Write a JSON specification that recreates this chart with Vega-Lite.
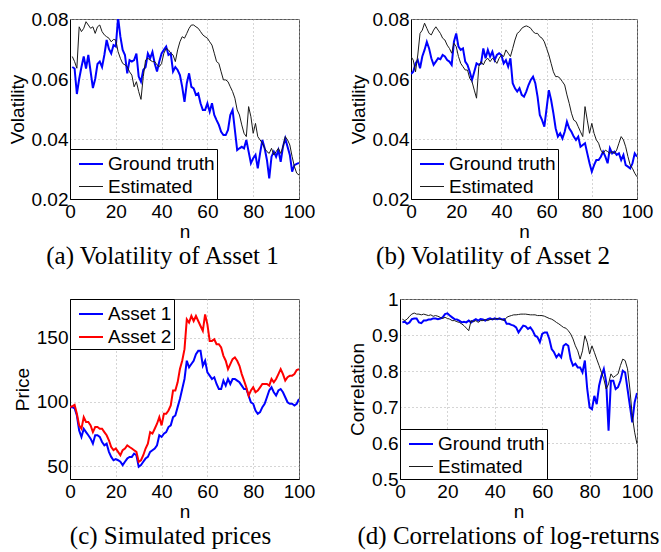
{
"$schema": "https://vega.github.io/schema/vega-lite/v6.json",
"background": "white",
"padding": {"left": 7, "top": 9, "right": 2, "bottom": 3},
"datasets": {
"a": [
{"n":1,"Ground truth":0.064,"Estimated":0.0675},{"n":2,"Ground truth":0.0635,"Estimated":0.0658},{"n":3,"Ground truth":0.055,"Estimated":0.0636},{"n":4,"Ground truth":0.06,"Estimated":0.0774},{"n":5,"Ground truth":0.064,"Estimated":0.0758},{"n":6,"Ground truth":0.0675,"Estimated":0.0769},{"n":7,"Ground truth":0.0635,"Estimated":0.0791},{"n":8,"Ground truth":0.068,"Estimated":0.078},{"n":9,"Ground truth":0.0625,"Estimated":0.0769},{"n":10,"Ground truth":0.057,"Estimated":0.0774},
{"n":11,"Ground truth":0.06,"Estimated":0.0752},{"n":12,"Ground truth":0.065,"Estimated":0.0774},{"n":13,"Ground truth":0.0658,"Estimated":0.078},{"n":14,"Ground truth":0.064,"Estimated":0.0758},{"n":15,"Ground truth":0.068,"Estimated":0.0747},{"n":16,"Ground truth":0.073,"Estimated":0.0741},{"n":17,"Ground truth":0.07,"Estimated":0.0736},{"n":18,"Ground truth":0.0685,"Estimated":0.0724},{"n":19,"Ground truth":0.0713,"Estimated":0.0732},{"n":20,"Ground truth":0.0708,"Estimated":0.073},
{"n":21,"Ground truth":0.0805,"Estimated":0.0691},{"n":22,"Ground truth":0.0741,"Estimated":0.0669},{"n":23,"Ground truth":0.0697,"Estimated":0.0652},{"n":24,"Ground truth":0.068,"Estimated":0.0647},{"n":25,"Ground truth":0.0619,"Estimated":0.0641},{"n":26,"Ground truth":0.0663,"Estimated":0.0624},{"n":27,"Ground truth":0.0658,"Estimated":0.0613},{"n":28,"Ground truth":0.0663,"Estimated":0.0574},{"n":29,"Ground truth":0.0685,"Estimated":0.0591},{"n":30,"Ground truth":0.0608,"Estimated":0.0558},
{"n":31,"Ground truth":0.0591,"Estimated":0.0532},{"n":32,"Ground truth":0.063,"Estimated":0.0608},{"n":33,"Ground truth":0.064,"Estimated":0.0663},{"n":34,"Ground truth":0.0685,"Estimated":0.0669},{"n":35,"Ground truth":0.0669,"Estimated":0.0663},{"n":36,"Ground truth":0.069,"Estimated":0.0658},{"n":37,"Ground truth":0.0652,"Estimated":0.0658},{"n":38,"Ground truth":0.0625,"Estimated":0.0647},{"n":39,"Ground truth":0.0658,"Estimated":0.0641},{"n":40,"Ground truth":0.0685,"Estimated":0.0652},
{"n":41,"Ground truth":0.0697,"Estimated":0.0686},{"n":42,"Ground truth":0.0708,"Estimated":0.0702},{"n":43,"Ground truth":0.068,"Estimated":0.0697},{"n":44,"Ground truth":0.0685,"Estimated":0.0686},{"n":45,"Ground truth":0.0625,"Estimated":0.068},{"n":46,"Ground truth":0.064,"Estimated":0.0658},{"n":47,"Ground truth":0.063,"Estimated":0.0697},{"n":48,"Ground truth":0.0613,"Estimated":0.0724},{"n":49,"Ground truth":0.0574,"Estimated":0.0741},{"n":50,"Ground truth":0.0524,"Estimated":0.0736},
{"n":51,"Ground truth":0.0586,"Estimated":0.0752},{"n":52,"Ground truth":0.0619,"Estimated":0.0769},{"n":53,"Ground truth":0.0574,"Estimated":0.078},{"n":54,"Ground truth":0.0569,"Estimated":0.078},{"n":55,"Ground truth":0.0547,"Estimated":0.0774},{"n":56,"Ground truth":0.0552,"Estimated":0.0769},{"n":57,"Ground truth":0.0519,"Estimated":0.0758},{"n":58,"Ground truth":0.0497,"Estimated":0.0747},{"n":59,"Ground truth":0.0497,"Estimated":0.0741},{"n":60,"Ground truth":0.0519,"Estimated":0.0736},
{"n":61,"Ground truth":0.0491,"Estimated":0.0724},{"n":62,"Ground truth":0.0519,"Estimated":0.0713},{"n":63,"Ground truth":0.048,"Estimated":0.0686},{"n":64,"Ground truth":0.0463,"Estimated":0.0658},{"n":65,"Ground truth":0.0447,"Estimated":0.0652},{"n":66,"Ground truth":0.0424,"Estimated":0.0624},{"n":67,"Ground truth":0.0413,"Estimated":0.0597},{"n":68,"Ground truth":0.0413,"Estimated":0.0597},{"n":69,"Ground truth":0.043,"Estimated":0.0591},{"n":70,"Ground truth":0.048,"Estimated":0.0574},
{"n":71,"Ground truth":0.0497,"Estimated":0.0558},{"n":72,"Ground truth":0.043,"Estimated":0.0536},{"n":73,"Ground truth":0.0363,"Estimated":0.0497},{"n":74,"Ground truth":0.0369,"Estimated":0.048},{"n":75,"Ground truth":0.0374,"Estimated":0.0447},{"n":76,"Ground truth":0.0369,"Estimated":0.0419},{"n":77,"Ground truth":0.0397,"Estimated":0.0408},{"n":78,"Ground truth":0.0358,"Estimated":0.0508},{"n":79,"Ground truth":0.0319,"Estimated":0.0474},{"n":80,"Ground truth":0.0336,"Estimated":0.0419},
{"n":81,"Ground truth":0.0347,"Estimated":0.0452},{"n":82,"Ground truth":0.0302,"Estimated":0.0408},{"n":83,"Ground truth":0.0352,"Estimated":0.0397},{"n":84,"Ground truth":0.0397,"Estimated":0.0386},{"n":85,"Ground truth":0.0369,"Estimated":0.0369},{"n":86,"Ground truth":0.033,"Estimated":0.0358},{"n":87,"Ground truth":0.0269,"Estimated":0.0352},{"n":88,"Ground truth":0.0341,"Estimated":0.0369},{"n":89,"Ground truth":0.0358,"Estimated":0.0347},{"n":90,"Ground truth":0.0341,"Estimated":0.0358},
{"n":91,"Ground truth":0.0363,"Estimated":0.0369},{"n":92,"Ground truth":0.0324,"Estimated":0.0352},{"n":93,"Ground truth":0.0374,"Estimated":0.0374},{"n":94,"Ground truth":0.0402,"Estimated":0.0408},{"n":95,"Ground truth":0.0374,"Estimated":0.0397},{"n":96,"Ground truth":0.0347,"Estimated":0.038},{"n":97,"Ground truth":0.0291,"Estimated":0.0341},{"n":98,"Ground truth":0.0313,"Estimated":0.0308},{"n":99,"Ground truth":0.0317,"Estimated":0.0286},{"n":100,"Ground truth":0.032,"Estimated":0.028}
],
"b": [
{"n":0,"Ground truth":0.0617,"Estimated":0.0675},{"n":1,"Ground truth":0.0624,"Estimated":0.0663},{"n":2,"Ground truth":0.0652,"Estimated":0.0624},{"n":3,"Ground truth":0.0663,"Estimated":0.068},{"n":4,"Ground truth":0.0636,"Estimated":0.0752},{"n":5,"Ground truth":0.0675,"Estimated":0.0763},{"n":6,"Ground truth":0.0697,"Estimated":0.0786},{"n":7,"Ground truth":0.0724,"Estimated":0.0769},{"n":8,"Ground truth":0.0702,"Estimated":0.0752},{"n":9,"Ground truth":0.0669,"Estimated":0.0747},{"n":10,"Ground truth":0.0647,"Estimated":0.0763},
{"n":11,"Ground truth":0.0658,"Estimated":0.0774},{"n":12,"Ground truth":0.0669,"Estimated":0.0763},{"n":13,"Ground truth":0.0666,"Estimated":0.0752},{"n":14,"Ground truth":0.068,"Estimated":0.0736},{"n":15,"Ground truth":0.0675,"Estimated":0.073},{"n":16,"Ground truth":0.0663,"Estimated":0.0713},{"n":17,"Ground truth":0.0658,"Estimated":0.0702},{"n":18,"Ground truth":0.0647,"Estimated":0.0686},{"n":19,"Ground truth":0.0724,"Estimated":0.0719},{"n":20,"Ground truth":0.0752,"Estimated":0.0708},
{"n":21,"Ground truth":0.0708,"Estimated":0.0675},{"n":22,"Ground truth":0.0697,"Estimated":0.0652},{"n":23,"Ground truth":0.0702,"Estimated":0.0641},{"n":24,"Ground truth":0.0658,"Estimated":0.063},{"n":25,"Ground truth":0.0647,"Estimated":0.063},{"n":26,"Ground truth":0.0624,"Estimated":0.0602},{"n":27,"Ground truth":0.0597,"Estimated":0.0591},{"n":28,"Ground truth":0.0624,"Estimated":0.0563},{"n":29,"Ground truth":0.0652,"Estimated":0.0536},{"n":30,"Ground truth":0.0647,"Estimated":0.0641},
{"n":31,"Ground truth":0.0652,"Estimated":0.0658},{"n":32,"Ground truth":0.0702,"Estimated":0.0647},{"n":33,"Ground truth":0.0669,"Estimated":0.0663},{"n":34,"Ground truth":0.0697,"Estimated":0.0669},{"n":35,"Ground truth":0.0675,"Estimated":0.0658},{"n":36,"Ground truth":0.0691,"Estimated":0.0669},{"n":37,"Ground truth":0.0663,"Estimated":0.0663},{"n":38,"Ground truth":0.068,"Estimated":0.0652},{"n":39,"Ground truth":0.0686,"Estimated":0.0669},{"n":40,"Ground truth":0.068,"Estimated":0.068},
{"n":41,"Ground truth":0.0652,"Estimated":0.0675},{"n":42,"Ground truth":0.0663,"Estimated":0.0697},{"n":43,"Ground truth":0.0641,"Estimated":0.0686},{"n":44,"Ground truth":0.0669,"Estimated":0.0675},{"n":45,"Ground truth":0.0586,"Estimated":0.0702},{"n":46,"Ground truth":0.0569,"Estimated":0.073},{"n":47,"Ground truth":0.0558,"Estimated":0.0752},{"n":48,"Ground truth":0.0569,"Estimated":0.0758},{"n":49,"Ground truth":0.0547,"Estimated":0.0769},{"n":50,"Ground truth":0.0541,"Estimated":0.0774},
{"n":51,"Ground truth":0.0558,"Estimated":0.0777},{"n":52,"Ground truth":0.058,"Estimated":0.0774},{"n":53,"Ground truth":0.0597,"Estimated":0.0769},{"n":54,"Ground truth":0.0608,"Estimated":0.0758},{"n":55,"Ground truth":0.0586,"Estimated":0.0752},{"n":56,"Ground truth":0.0541,"Estimated":0.0752},{"n":57,"Ground truth":0.048,"Estimated":0.0741},{"n":58,"Ground truth":0.0463,"Estimated":0.0736},{"n":59,"Ground truth":0.0441,"Estimated":0.0724},{"n":60,"Ground truth":0.0502,"Estimated":0.0702},
{"n":61,"Ground truth":0.0563,"Estimated":0.068},{"n":62,"Ground truth":0.053,"Estimated":0.0652},{"n":63,"Ground truth":0.0486,"Estimated":0.0624},{"n":64,"Ground truth":0.0436,"Estimated":0.0608},{"n":65,"Ground truth":0.0408,"Estimated":0.0608},{"n":66,"Ground truth":0.0419,"Estimated":0.0602},{"n":67,"Ground truth":0.0402,"Estimated":0.0591},{"n":68,"Ground truth":0.0424,"Estimated":0.058},{"n":69,"Ground truth":0.0458,"Estimated":0.0547},{"n":70,"Ground truth":0.0436,"Estimated":0.0519},
{"n":71,"Ground truth":0.0424,"Estimated":0.0486},{"n":72,"Ground truth":0.0408,"Estimated":0.0463},{"n":73,"Ground truth":0.0397,"Estimated":0.0458},{"n":74,"Ground truth":0.0408,"Estimated":0.0441},{"n":75,"Ground truth":0.0374,"Estimated":0.0424},{"n":76,"Ground truth":0.038,"Estimated":0.0408},{"n":77,"Ground truth":0.0386,"Estimated":0.0508},{"n":78,"Ground truth":0.0352,"Estimated":0.0463},{"n":79,"Ground truth":0.0319,"Estimated":0.0419},{"n":80,"Ground truth":0.0291,"Estimated":0.0452},
{"n":81,"Ground truth":0.0313,"Estimated":0.0419},{"n":82,"Ground truth":0.033,"Estimated":0.0397},{"n":83,"Ground truth":0.033,"Estimated":0.0386},{"n":84,"Ground truth":0.0341,"Estimated":0.0363},{"n":85,"Ground truth":0.0358,"Estimated":0.0352},{"n":86,"Ground truth":0.0341,"Estimated":0.0363},{"n":87,"Ground truth":0.0319,"Estimated":0.0358},{"n":88,"Ground truth":0.0369,"Estimated":0.0352},{"n":89,"Ground truth":0.0352,"Estimated":0.0358},{"n":90,"Ground truth":0.0358,"Estimated":0.0352},
{"n":91,"Ground truth":0.0347,"Estimated":0.0363},{"n":92,"Ground truth":0.0352,"Estimated":0.0386},{"n":93,"Ground truth":0.033,"Estimated":0.0408},{"n":94,"Ground truth":0.0347,"Estimated":0.0397},{"n":95,"Ground truth":0.0313,"Estimated":0.0374},{"n":96,"Ground truth":0.0308,"Estimated":0.0341},{"n":97,"Ground truth":0.0302,"Estimated":0.0313},{"n":98,"Ground truth":0.0319,"Estimated":0.0302},{"n":99,"Ground truth":0.0352,"Estimated":0.0286},{"n":100,"Ground truth":0.0341,"Estimated":0.0274}
],
"c": [
{"n":0,"Asset 1":95.9,"Asset 2":95.9},{"n":1,"Asset 1":95.9,"Asset 2":96.6},{"n":2,"Asset 1":95,"Asset 2":97.7},{"n":3,"Asset 1":89.4,"Asset 2":90.7},{"n":4,"Asset 1":77.8,"Asset 2":81.7},{"n":5,"Asset 1":72.7,"Asset 2":79.1},{"n":6,"Asset 1":79.1,"Asset 2":88.1},{"n":7,"Asset 1":76.5,"Asset 2":84.3},{"n":8,"Asset 1":74,"Asset 2":84.3},{"n":9,"Asset 1":71.4,"Asset 2":81.7},{"n":10,"Asset 1":67.5,"Asset 2":76.5},
{"n":11,"Asset 1":74,"Asset 2":80.4},{"n":12,"Asset 1":74,"Asset 2":80.4},{"n":13,"Asset 1":72.7,"Asset 2":79.1},{"n":14,"Asset 1":68.8,"Asset 2":79.1},{"n":15,"Asset 1":66.2,"Asset 2":76.5},{"n":16,"Asset 1":67.5,"Asset 2":74},{"n":17,"Asset 1":61.1,"Asset 2":70.1},{"n":18,"Asset 1":57.2,"Asset 2":64.9},{"n":19,"Asset 1":54.6,"Asset 2":62.4},{"n":20,"Asset 1":55.4,"Asset 2":63.7},
{"n":21,"Asset 1":54.6,"Asset 2":61.1},{"n":22,"Asset 1":53.4,"Asset 2":58.5},{"n":23,"Asset 1":50.8,"Asset 2":62.4},{"n":24,"Asset 1":53.4,"Asset 2":63.7},{"n":25,"Asset 1":55.9,"Asset 2":66.2},{"n":26,"Asset 1":57.2,"Asset 2":64.9},{"n":27,"Asset 1":57.2,"Asset 2":63.7},{"n":28,"Asset 1":59.8,"Asset 2":62.4},{"n":29,"Asset 1":58.5,"Asset 2":61.1},{"n":30,"Asset 1":49.5,"Asset 2":53.4},
{"n":31,"Asset 1":50.8,"Asset 2":54.6},{"n":32,"Asset 1":53.4,"Asset 2":58.5},{"n":33,"Asset 1":55.9,"Asset 2":63.7},{"n":34,"Asset 1":57.2,"Asset 2":67.5},{"n":35,"Asset 1":61.1,"Asset 2":76.5},{"n":36,"Asset 1":62.4,"Asset 2":75.3},{"n":37,"Asset 1":63.7,"Asset 2":79.1},{"n":38,"Asset 1":66.2,"Asset 2":83},{"n":39,"Asset 1":74,"Asset 2":88.1},{"n":40,"Asset 1":72.7,"Asset 2":81.7},
{"n":41,"Asset 1":75.3,"Asset 2":90.7},{"n":42,"Asset 1":76.5,"Asset 2":90.7},{"n":43,"Asset 1":80.4,"Asset 2":93.3},{"n":44,"Asset 1":81.7,"Asset 2":97.2},{"n":45,"Asset 1":88.1,"Asset 2":108.8},{"n":46,"Asset 1":89.4,"Asset 2":108.8},{"n":47,"Asset 1":95.9,"Asset 2":115.2},{"n":48,"Asset 1":102.3,"Asset 2":125.5},{"n":49,"Asset 1":110,"Asset 2":132},{"n":50,"Asset 1":117.8,"Asset 2":141},
{"n":51,"Asset 1":132,"Asset 2":164.2},{"n":52,"Asset 1":126.8,"Asset 2":161.6},{"n":53,"Asset 1":129.4,"Asset 2":166.8},{"n":54,"Asset 1":132,"Asset 2":162.9},{"n":55,"Asset 1":137.1,"Asset 2":166.8},{"n":56,"Asset 1":139.7,"Asset 2":162.9},{"n":57,"Asset 1":139.7,"Asset 2":159},{"n":58,"Asset 1":128.1,"Asset 2":155.2},{"n":59,"Asset 1":132,"Asset 2":168},{"n":60,"Asset 1":122.9,"Asset 2":160.3},
{"n":61,"Asset 1":120.4,"Asset 2":147.4},{"n":62,"Asset 1":117.8,"Asset 2":147.4},{"n":63,"Asset 1":119.1,"Asset 2":148.7},{"n":64,"Asset 1":113.9,"Asset 2":144.8},{"n":65,"Asset 1":110,"Asset 2":144.8},{"n":66,"Asset 1":110,"Asset 2":142.3},{"n":67,"Asset 1":116.5,"Asset 2":135.8},{"n":68,"Asset 1":112.6,"Asset 2":132},{"n":69,"Asset 1":117.8,"Asset 2":125.5},{"n":70,"Asset 1":113.9,"Asset 2":129.4},
{"n":71,"Asset 1":117.8,"Asset 2":133.2},{"n":72,"Asset 1":117.8,"Asset 2":134.5},{"n":73,"Asset 1":116.5,"Asset 2":132},{"n":74,"Asset 1":115.2,"Asset 2":128.1},{"n":75,"Asset 1":112.6,"Asset 2":121.6},{"n":76,"Asset 1":110,"Asset 2":116.5},{"n":77,"Asset 1":110,"Asset 2":111.3},{"n":78,"Asset 1":104.9,"Asset 2":104.9},{"n":79,"Asset 1":99.7,"Asset 2":108.8},{"n":80,"Asset 1":98.5,"Asset 2":111.3},
{"n":81,"Asset 1":93.3,"Asset 2":107.5},{"n":82,"Asset 1":90.7,"Asset 2":108.8},{"n":83,"Asset 1":92,"Asset 2":111.3},{"n":84,"Asset 1":95.9,"Asset 2":113.9},{"n":85,"Asset 1":98.5,"Asset 2":113.9},{"n":86,"Asset 1":103.6,"Asset 2":113.9},{"n":87,"Asset 1":108.8,"Asset 2":112.6},{"n":88,"Asset 1":111.3,"Asset 2":117.8},{"n":89,"Asset 1":107.5,"Asset 2":115.2},{"n":90,"Asset 1":104.9,"Asset 2":117.8},
{"n":91,"Asset 1":108.8,"Asset 2":121.6},{"n":92,"Asset 1":110,"Asset 2":125.5},{"n":93,"Asset 1":107.5,"Asset 2":121.6},{"n":94,"Asset 1":103.6,"Asset 2":116.5},{"n":95,"Asset 1":99.7,"Asset 2":119.1},{"n":96,"Asset 1":98.5,"Asset 2":120.4},{"n":97,"Asset 1":98.5,"Asset 2":120.4},{"n":98,"Asset 1":97.2,"Asset 2":121.6},{"n":99,"Asset 1":98.5,"Asset 2":124.7},{"n":100,"Asset 1":102.3,"Asset 2":125.5}
],
"d": [
{"n":1,"Ground truth":0.935,"Estimated":0.944},{"n":2,"Ground truth":0.937,"Estimated":0.94},{"n":3,"Ground truth":0.931,"Estimated":0.944},{"n":4,"Ground truth":0.935,"Estimated":0.952},{"n":5,"Ground truth":0.944,"Estimated":0.958},{"n":6,"Ground truth":0.946,"Estimated":0.961},{"n":7,"Ground truth":0.946,"Estimated":0.958},{"n":8,"Ground truth":0.935,"Estimated":0.958},{"n":9,"Ground truth":0.933,"Estimated":0.956},{"n":10,"Ground truth":0.94,"Estimated":0.958},
{"n":11,"Ground truth":0.94,"Estimated":0.956},{"n":12,"Ground truth":0.943,"Estimated":0.954},{"n":13,"Ground truth":0.943,"Estimated":0.956},{"n":14,"Ground truth":0.946,"Estimated":0.952},{"n":15,"Ground truth":0.946,"Estimated":0.954},{"n":16,"Ground truth":0.944,"Estimated":0.952},{"n":17,"Ground truth":0.946,"Estimated":0.949},{"n":18,"Ground truth":0.949,"Estimated":0.946},{"n":19,"Ground truth":0.958,"Estimated":0.949},{"n":20,"Ground truth":0.96,"Estimated":0.946},
{"n":21,"Ground truth":0.954,"Estimated":0.944},{"n":22,"Ground truth":0.949,"Estimated":0.94},{"n":23,"Ground truth":0.944,"Estimated":0.94},{"n":24,"Ground truth":0.943,"Estimated":0.937},{"n":25,"Ground truth":0.94,"Estimated":0.935},{"n":26,"Ground truth":0.935,"Estimated":0.931},{"n":27,"Ground truth":0.937,"Estimated":0.926},{"n":28,"Ground truth":0.935,"Estimated":0.919},{"n":29,"Ground truth":0.94,"Estimated":0.912},{"n":30,"Ground truth":0.935,"Estimated":0.94},
{"n":31,"Ground truth":0.94,"Estimated":0.937},{"n":32,"Ground truth":0.944,"Estimated":0.94},{"n":33,"Ground truth":0.94,"Estimated":0.935},{"n":34,"Ground truth":0.944,"Estimated":0.94},{"n":35,"Ground truth":0.943,"Estimated":0.94},{"n":36,"Ground truth":0.94,"Estimated":0.943},{"n":37,"Ground truth":0.944,"Estimated":0.94},{"n":38,"Ground truth":0.946,"Estimated":0.943},{"n":39,"Ground truth":0.943,"Estimated":0.944},{"n":40,"Ground truth":0.946,"Estimated":0.944},
{"n":41,"Ground truth":0.944,"Estimated":0.946},{"n":42,"Ground truth":0.946,"Estimated":0.944},{"n":43,"Ground truth":0.943,"Estimated":0.943},{"n":44,"Ground truth":0.944,"Estimated":0.94},{"n":45,"Ground truth":0.931,"Estimated":0.949},{"n":46,"Ground truth":0.931,"Estimated":0.952},{"n":47,"Ground truth":0.928,"Estimated":0.954},{"n":48,"Ground truth":0.926,"Estimated":0.956},{"n":49,"Ground truth":0.921,"Estimated":0.956},{"n":50,"Ground truth":0.907,"Estimated":0.957},
{"n":51,"Ground truth":0.917,"Estimated":0.958},{"n":52,"Ground truth":0.926,"Estimated":0.958},{"n":53,"Ground truth":0.924,"Estimated":0.958},{"n":54,"Ground truth":0.917,"Estimated":0.957},{"n":55,"Ground truth":0.921,"Estimated":0.956},{"n":56,"Ground truth":0.912,"Estimated":0.956},{"n":57,"Ground truth":0.898,"Estimated":0.956},{"n":58,"Ground truth":0.894,"Estimated":0.954},{"n":59,"Ground truth":0.88,"Estimated":0.954},{"n":60,"Ground truth":0.903,"Estimated":0.954},
{"n":61,"Ground truth":0.907,"Estimated":0.952},{"n":62,"Ground truth":0.907,"Estimated":0.949},{"n":63,"Ground truth":0.889,"Estimated":0.946},{"n":64,"Ground truth":0.861,"Estimated":0.944},{"n":65,"Ground truth":0.852,"Estimated":0.94},{"n":66,"Ground truth":0.838,"Estimated":0.935},{"n":67,"Ground truth":0.847,"Estimated":0.931},{"n":68,"Ground truth":0.838,"Estimated":0.926},{"n":69,"Ground truth":0.87,"Estimated":0.921},{"n":70,"Ground truth":0.875,"Estimated":0.919},
{"n":71,"Ground truth":0.87,"Estimated":0.912},{"n":72,"Ground truth":0.833,"Estimated":0.903},{"n":73,"Ground truth":0.815,"Estimated":0.889},{"n":74,"Ground truth":0.82,"Estimated":0.87},{"n":75,"Ground truth":0.81,"Estimated":0.856},{"n":76,"Ground truth":0.81,"Estimated":0.833},{"n":77,"Ground truth":0.796,"Estimated":0.856},{"n":78,"Ground truth":0.829,"Estimated":0.898},{"n":79,"Ground truth":0.75,"Estimated":0.88},{"n":80,"Ground truth":0.699,"Estimated":0.847},
{"n":81,"Ground truth":0.694,"Estimated":0.87},{"n":82,"Ground truth":0.731,"Estimated":0.852},{"n":83,"Ground truth":0.708,"Estimated":0.833},{"n":84,"Ground truth":0.759,"Estimated":0.815},{"n":85,"Ground truth":0.787,"Estimated":0.796},{"n":86,"Ground truth":0.806,"Estimated":0.778},{"n":87,"Ground truth":0.769,"Estimated":0.75},{"n":88,"Ground truth":0.634,"Estimated":0.764},{"n":89,"Ground truth":0.773,"Estimated":0.792},{"n":90,"Ground truth":0.773,"Estimated":0.782},
{"n":91,"Ground truth":0.75,"Estimated":0.787},{"n":92,"Ground truth":0.755,"Estimated":0.792},{"n":93,"Ground truth":0.773,"Estimated":0.815},{"n":94,"Ground truth":0.801,"Estimated":0.833},{"n":95,"Ground truth":0.796,"Estimated":0.829},{"n":96,"Ground truth":0.75,"Estimated":0.806},{"n":97,"Ground truth":0.704,"Estimated":0.75},{"n":98,"Ground truth":0.657,"Estimated":0.676},{"n":99,"Ground truth":0.713,"Estimated":0.63},{"n":100,"Ground truth":0.739,"Estimated":0.597}
]
},
"vconcat": [
{
"hconcat": [
{
"width": 229, "height": 180,
"title": {"text": "(a) Volatility of Asset 1", "dx": -22},
"data": {"name": "a"},
"transform": [{"fold": ["Ground truth", "Estimated"], "as": ["series", "value"]}],
"mark": {"type": "line", "clip": true},
"encoding": {
"x": {"field": "n", "type": "quantitative", "scale": {"domain": [0, 100], "nice": false}, "axis": {"title": "n", "values": [0, 20, 40, 60, 80, 100]}},
"y": {"field": "value", "type": "quantitative", "scale": {"domain": [0.02, 0.08], "nice": false, "zero": false}, "axis": {"title": "Volatility", "values": [0.02, 0.04, 0.06, 0.08], "format": ".2f"}},
"color": {"field": "series", "type": "nominal", "scale": {"domain": ["Ground truth", "Estimated"], "range": ["#0000ff", "#1a1a1a"]}, "legend": {"title": null, "orient": "bottom-left"}},
"strokeWidth": {"field": "series", "type": "nominal", "scale": {"domain": ["Ground truth", "Estimated"], "range": [2, 1]}, "legend": {"title": null, "orient": "bottom-left"}}
}
},
{
"width": 226, "height": 180,
"title": {"text": "(b) Volatility of Asset 2", "dx": -31},
"data": {"name": "b"},
"transform": [{"fold": ["Ground truth", "Estimated"], "as": ["series", "value"]}],
"mark": {"type": "line", "clip": true},
"encoding": {
"x": {"field": "n", "type": "quantitative", "scale": {"domain": [0, 100], "nice": false}, "axis": {"title": "n", "values": [0, 20, 40, 60, 80, 100]}},
"y": {"field": "value", "type": "quantitative", "scale": {"domain": [0.02, 0.08], "nice": false, "zero": false}, "axis": {"title": "Volatility", "values": [0.02, 0.04, 0.06, 0.08], "format": ".2f"}},
"color": {"field": "series", "type": "nominal", "scale": {"domain": ["Ground truth", "Estimated"], "range": ["#0000ff", "#1a1a1a"]}, "legend": {"title": null, "orient": "bottom-left"}},
"strokeWidth": {"field": "series", "type": "nominal", "scale": {"domain": ["Ground truth", "Estimated"], "range": [2, 1]}, "legend": {"title": null, "orient": "bottom-left"}}
}
}
],
"spacing": 112,
"bounds": "flush",
"resolve": {"scale": {"color": "independent", "strokeWidth": "independent"}, "legend": {"color": "independent", "strokeWidth": "independent"}}
},
{
"hconcat": [
{
"width": 229, "height": 180,
"title": {"text": "(c) Simulated prices", "dx": -14},
"data": {"name": "c"},
"transform": [{"fold": ["Asset 1", "Asset 2"], "as": ["series", "value"]}],
"mark": {"type": "line", "clip": true, "strokeWidth": 2},
"encoding": {
"x": {"field": "n", "type": "quantitative", "scale": {"domain": [0, 100], "nice": false}, "axis": {"title": "n", "values": [0, 20, 40, 60, 80, 100]}},
"y": {"field": "value", "type": "quantitative", "scale": {"domain": [40, 180], "nice": false, "zero": false}, "axis": {"title": "Price", "values": [50, 100, 150]}},
"color": {"field": "series", "type": "nominal", "scale": {"domain": ["Asset 1", "Asset 2"], "range": ["#0000ff", "#ff0000"]}, "legend": {"title": null, "orient": "top-left"}}
}
},
{
"width": 237, "height": 180,
"title": {"text": "(d) Correlations of log-returns", "dx": -10},
"data": {"name": "d"},
"transform": [{"fold": ["Ground truth", "Estimated"], "as": ["series", "value"]}],
"mark": {"type": "line", "clip": true},
"encoding": {
"x": {"field": "n", "type": "quantitative", "scale": {"domain": [0, 100], "nice": false}, "axis": {"title": "n", "values": [0, 20, 40, 60, 80, 100]}},
"y": {"field": "value", "type": "quantitative", "scale": {"domain": [0.5, 1], "nice": false, "zero": false}, "axis": {"title": "Correlation", "values": [0.5, 0.6, 0.7, 0.8, 0.9, 1], "format": ".1~f"}},
"color": {"field": "series", "type": "nominal", "scale": {"domain": ["Ground truth", "Estimated"], "range": ["#0000ff", "#1a1a1a"]}, "legend": {"title": null, "orient": "bottom-left"}},
"strokeWidth": {"field": "series", "type": "nominal", "scale": {"domain": ["Ground truth", "Estimated"], "range": [2, 1]}, "legend": {"title": null, "orient": "bottom-left"}}
}
}
],
"spacing": 101,
"bounds": "flush",
"resolve": {"scale": {"color": "independent", "strokeWidth": "independent"}, "legend": {"color": "independent", "strokeWidth": "independent"}}
}
],
"spacing": 19,
"bounds": "full",
"resolve": {"scale": {"color": "independent", "strokeWidth": "independent"}, "legend": {"color": "independent", "strokeWidth": "independent"}},
"config": {
"font": "Liberation Sans",
"view": {"stroke": "#555", "strokeWidth": 1},
"axis": {"labelFont": "Liberation Sans", "labelFontSize": 19, "labelColor": "#000", "titleFont": "Liberation Sans", "titleFontSize": 19, "titleFontWeight": "normal", "titleColor": "#000", "ticks": false, "domain": true, "domainColor": "#000", "grid": true, "gridColor": "#aaa", "gridDash": [1, 3], "gridOpacity": 1, "labelFlush": false, "labelOverlap": false},
"axisX": {"labelPadding": 3, "titlePadding": 1},
"axisY": {"labelPadding": 2, "titlePadding": 4},
"legend": {"fillColor": "#fff", "strokeColor": "#000", "padding": 2, "symbolType": "stroke", "symbolSize": 576, "labelFont": "Liberation Sans", "labelFontSize": 19, "labelColor": "#000", "labelOffset": 4, "rowPadding": 0, "symbolOffset": 6, "offset": 0, "labelLimit": 300, "symbolStrokeWidth": 2},
"title": {"font": "Liberation Serif", "fontSize": 25, "fontWeight": "normal", "color": "#000", "orient": "bottom", "offset": 3, "anchor": "middle"}
}
}
